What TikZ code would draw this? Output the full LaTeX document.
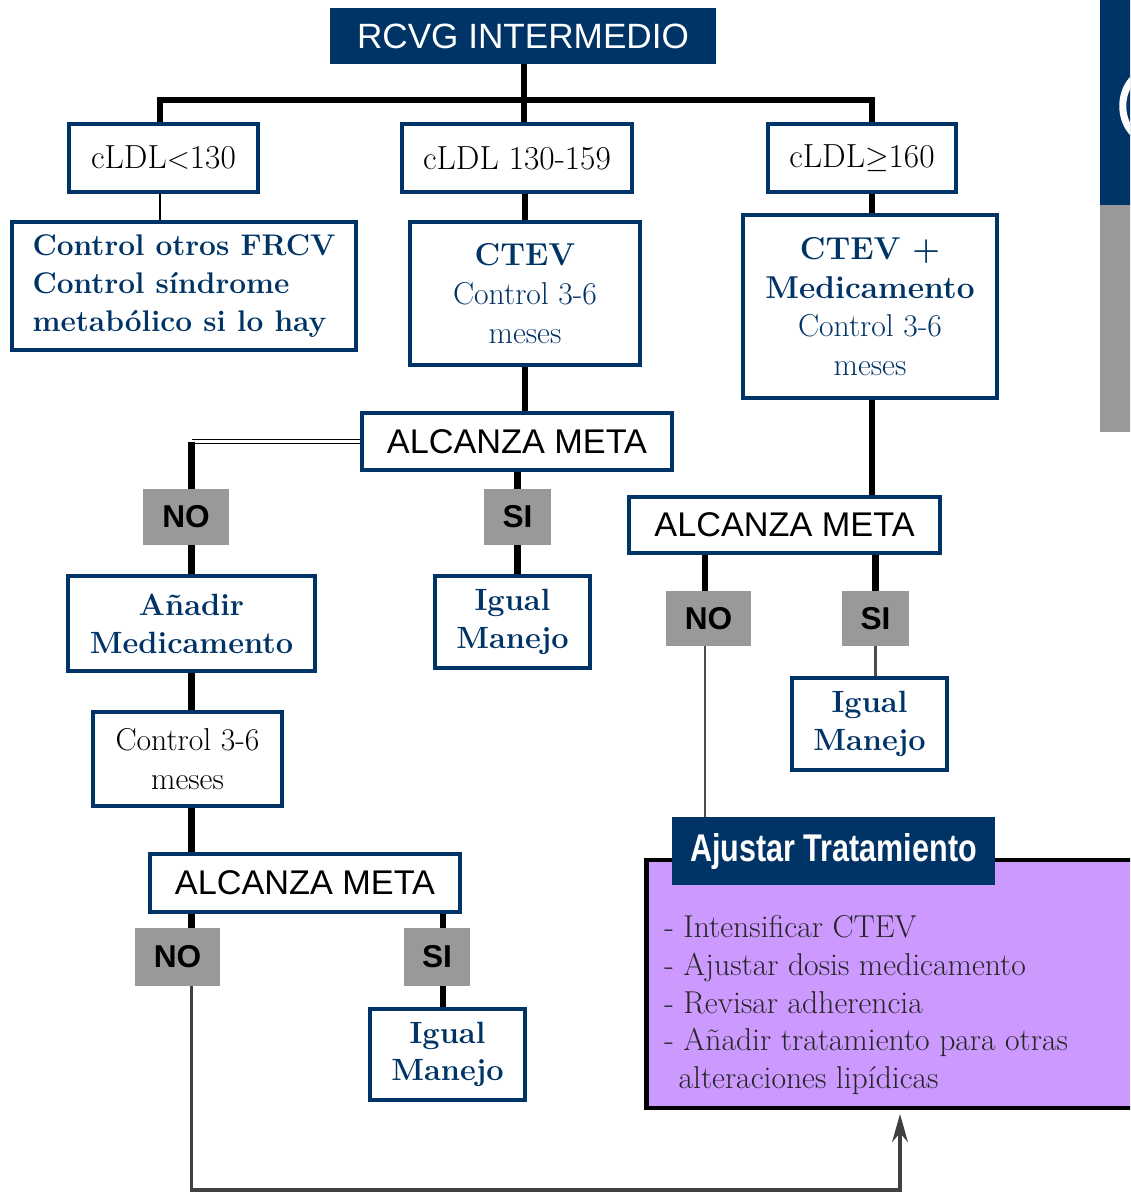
\documentclass[tikz,border=0pt]{standalone}
\usepackage{fontspec}
\setsansfont{Liberation Sans}
\usepackage{xcolor}
\usetikzlibrary{arrows.meta}

\definecolor{navyblue}{HTML}{003366}
\definecolor{greybox}{HTML}{999999}
\definecolor{lilac}{HTML}{CC99FF}

\begin{document}
\begin{tikzpicture}[x=0.02cm, y=-0.02cm,
    box/.style={draw=navyblue, line width=2.2pt, fill=white, inner sep=2pt, align=center},
    head/.style={fill=navyblue, text=white, inner sep=2pt},
    cond/.style={box, font=\fontsize{19}{21}\selectfont},
    todo/.style={box, text=navyblue, font=\fontsize{18}{22}\selectfont},
    meta/.style={box, font=\sffamily\fontsize{19.5}{22}\selectfont},
    answer/.style={fill=greybox, inner sep=2pt, font=\sffamily\bfseries\fontsize{18}{20}\selectfont},
    link/.style={line width=3.5pt},
    thinlink/.style={line width=1.2pt, draw=black!70}]
    \useasboundingbox (0,0) rectangle (1130,1192);
    \clip (0,0) rectangle (1130,1192);

    % Side strip
    \fill[navyblue] (1100,0) rectangle (1135,205);
    \fill[greybox] (1100,205) rectangle (1135,432);
    \draw[white, line width=4pt] (1134,78) .. controls (1119,92) and (1119,120) .. (1134,134);

    % Boxes
    \node[head, minimum width=7.72cm, minimum height=1.12cm, font=\sffamily\fontsize{20}{22}\selectfont] (title) at (523,36) {RCVG INTERMEDIO};
    \node[cond, minimum width=3.78cm, minimum height=1.36cm] (c1) at (163.5,158) {cLDL$<$130};
    \node[cond, minimum width=4.6cm, minimum height=1.36cm] (c2) at (517,158) {cLDL 130-159};
    \node[cond, minimum width=3.76cm, minimum height=1.36cm] (c3) at (862,158) {cLDL$\geq$160};
    \node[todo, align=left, minimum width=6.88cm, minimum height=2.56cm, font=\bfseries\fontsize{17}{21.5}\selectfont] (frcv) at (184,286) {Control otros FRCV\\Control síndrome\\metabólico si lo hay};
    \node[todo, minimum width=4.6cm, minimum height=2.86cm] (ctev) at (525,293.5) {\textbf{CTEV}\\Control 3-6\\meses};
    \node[todo, minimum width=5.08cm, minimum height=3.66cm] (ctevm) at (870,306.5) {\textbf{CTEV +}\\\textbf{Medicamento}\\Control 3-6\\meses};
    \node[meta, minimum width=6.2cm, minimum height=1.14cm] (meta1) at (517,441.5) {ALCANZA META};
    \node[answer, minimum width=1.72cm, minimum height=1.12cm] (no1) at (186,517) {NO};
    \node[answer, minimum width=1.34cm, minimum height=1.12cm] (si1) at (517.5,517) {SI};
    \node[todo, minimum width=4.94cm, minimum height=1.9cm, font=\bfseries\fontsize{17.5}{21.5}\selectfont] (add) at (191.5,623.5) {Añadir\\Medicamento};
    \node[todo, minimum width=3.1cm, minimum height=1.84cm, font=\bfseries\fontsize{17.5}{21.5}\selectfont] (igual1) at (512.5,622) {Igual\\Manejo};
    \node[box, minimum width=3.78cm, minimum height=1.88cm, font=\fontsize{18}{22}\selectfont] (ctrl) at (187.5,759) {Control 3-6\\meses};
    \node[meta, minimum width=6.2cm, minimum height=1.16cm] (meta3) at (305,883) {ALCANZA META};
    \node[answer, minimum width=1.7cm, minimum height=1.16cm] (no3) at (177.5,957) {NO};
    \node[answer, minimum width=1.32cm, minimum height=1.16cm] (si3) at (437,957) {SI};
    \node[todo, minimum width=3.1cm, minimum height=1.82cm, font=\bfseries\fontsize{17.5}{21.5}\selectfont] (igual3) at (447.5,1054.5) {Igual\\Manejo};
    \node[meta, minimum width=6.22cm, minimum height=1.12cm] (meta2) at (784.5,525) {ALCANZA META};
    \node[answer, minimum width=1.7cm, minimum height=1.1cm] (no2) at (708.5,618.5) {NO};
    \node[answer, minimum width=1.34cm, minimum height=1.1cm] (si2) at (875.5,618.5) {SI};
    \node[todo, minimum width=3.1cm, minimum height=1.84cm, font=\bfseries\fontsize{17.5}{21.5}\selectfont] (igual2) at (869.5,724) {Igual\\Manejo};
    \node[draw=black, fill=lilac, line width=2.8pt, minimum width=10.08cm, minimum height=4.96cm] (list) at (898,984) {};
    \node[head, minimum width=6.46cm, minimum height=1.36cm] (ajhead) at (833.5,851) {\scalebox{0.79}[1]{\sffamily\bfseries\fontsize{22}{24}\selectfont Ajustar Tratamiento}};
    \node[anchor=west, align=left, inner sep=0pt, text=black!85, font=\fontsize{18}{21.5}\selectfont] (items) at (664,1005) {- Intensificar CTEV\\- Ajustar dosis medicamento\\- Revisar adherencia\\- Añadir tratamiento para otras\\\hspace*{0.45em}alteraciones lipídicas};

    % Connectors
    \coordinate (bar) at (524,100);
    \coordinate (barL) at (160,100);
    \coordinate (barR) at (872,100);
    \coordinate (bend) at (900,1190);
    \coordinate (tip) at (900,1114);
    \draw[link] (title.south -| bar) -- (bar);
    \draw[link] (barL |- c1.north) -- (barL) -- (barR) -- (barR |- c3.north);
    \draw[link] (bar) -- (bar |- c2.north);
    \draw[line width=1.2pt] (barL |- c1.south) -- (barL |- frcv.north);
    \draw[link] (ctev.north |- c2.south) -- (ctev.north);
    \draw[link] (barR |- c3.south) -- (barR |- ctevm.north);
    \draw[link] (ctev.north |- ctev.south) -- (ctev.north |- meta1.north);
    \draw[double, double distance=1.6pt, line width=0.8pt] (meta1.west) -- (add.north |- meta1.west);
    \draw[link] (add.north |- meta1.west) -- (add.north |- no1.north);
    \draw[link] (si1.north |- meta1.south) -- (si1.north);
    \draw[link] (add.north |- no1.south) -- (add.north);
    \draw[link] (si1.south) -- (si1.south |- igual1.north);
    \draw[link] (add.south) -- (add.south |- ctrl.north);
    \draw[link] (add.south |- ctrl.south) -- (add.south |- meta3.north);
    \draw[link] (add.south |- meta3.south) -- (add.south |- no3.north);
    \draw[link] (443,0 |- meta3.south) -- (443,0 |- si3.north);
    \draw[link] (443,0 |- si3.south) -- (443,0 |- igual3.north);
    \draw[line width=1.8pt, draw=black!75, -{Stealth[length=16pt, width=9pt]}] (add.south |- no3.south) |- (bend) -- (tip);
    \draw[link] (barR |- ctevm.south) -- (barR |- meta2.north);
    \draw[link] (705,0 |- meta2.south) -- (705,0 |- no2.north);
    \draw[link] (si2.north |- meta2.south) -- (si2.north);
    \draw[thinlink] (si2.south) -- (si2.south |- igual2.north);
    \draw[thinlink] (705,0 |- no2.south) -- (705,0 |- ajhead.north);
\end{tikzpicture}
\end{document}
